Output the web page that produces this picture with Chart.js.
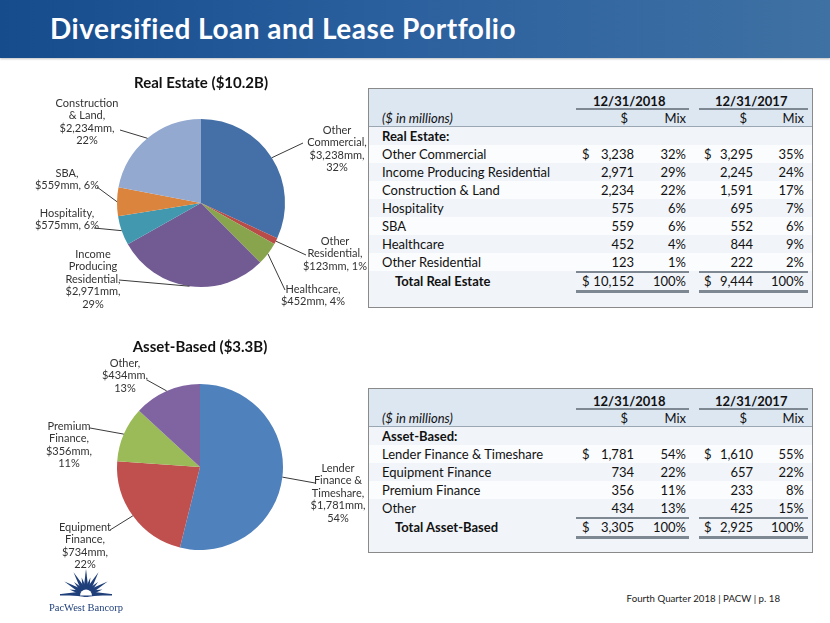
<!DOCTYPE html>
<html>
<head>
<meta charset="utf-8">
<script src="https://cdn.jsdelivr.net/npm/chart.js@4.4.1/dist/chart.umd.min.js"></script>
<style>
  body { margin: 0; background: #fff; font-family: Lato, sans-serif; }
  #page { position: relative; width: 830px; height: 623px; overflow: hidden; background: #fff; }
  #bar { position: absolute; left: 0; top: 0; width: 830px; height: 58px;
         background: linear-gradient(to right, #164b8c 0%, #2a5f9e 45%, #3f71a3 100%);
         box-shadow: 0 1px 2px rgba(0,0,0,0.25); }
  #bar h1 { margin: 0; position: absolute; left: 50px; top: 11px; color: #fff;
            font: bold 28px Lato, sans-serif; letter-spacing: 0.5px; line-height: 34px; }
  .pie { position: absolute; left: 0; width: 368px; height: 250px; }
  .tbl { position: absolute; left: 368px; width: 443px; border: 1px solid #8a8a8a;
         background: #f1f5fa; font-size: 13px; color: #111; z-index: 2; }
  .tbl .hd { position: absolute; left: 0; top: 0; right: 0; height: 37px; background: #dde7f2;
             border-bottom: 1px solid #9aa6b2; }
  .tbl .row { position: absolute; left: 0; right: 0; height: 18px; line-height: 18px; }
  .tbl .row.alt { background: #fbfcfe; }
  .tbl span { position: absolute; top: 0; white-space: nowrap; }
  .tbl .rule { position: absolute; height: 0; border-top: 2px solid #7d8893; }
  .tbl .rule.dbl { border-top: 3px solid #7d8893; }
  #foot { position: absolute; right: 50px; top: 592px; font-size: 9.7px; color: #222; }
  #logo { position: absolute; left: 48px; top: 566px; }
</style>
</head>
<body>
<div id="page">
  <div id="bar"><h1>Diversified Loan and Lease Portfolio</h1></div>
  <div class="pie" style="top:60px"><canvas id="rePie"></canvas></div>
  <div class="pie" style="top:320px"><canvas id="abPie"></canvas></div>
  <div class="tbl" id="reTbl" style="top:88px;height:218px"></div>
  <div class="tbl" id="abTbl" style="top:388px;height:163px"></div>
  <svg id="logo" width="80" height="52" viewBox="0 0 80 52">
    <g fill="#1f3f7a" id="rays"></g>
    <text x="38" y="45" text-anchor="middle" font-family="Liberation Serif, serif" font-size="10.5" fill="#1f3f7a">PacWest Bancorp</text>
  </svg>
  <div id="foot">Fourth Quarter 2018 | PACW | p. 18</div>
</div>
<script>
// real estate (table order)
const reCategories = ["Other Commercial", "Income Producing Residential", "Construction & Land",
                      "Hospitality", "SBA", "Healthcare", "Other Residential"];
const re2018 = [3238, 2971, 2234, 575, 559, 452, 123];
const reMix2018 = [32, 29, 22, 6, 6, 4, 1];
const re2017 = [3295, 2245, 1591, 695, 552, 844, 222];
const reMix2017 = [35, 24, 17, 7, 6, 9, 2];
const reTotals = [10152, 9444];
// order of slices clockwise from 12 o'clock
const reSliceOrder = [0, 6, 5, 1, 3, 4, 2];

// asset-based (table order = slice order)
const abCategories = ["Lender Finance & Timeshare", "Equipment Finance", "Premium Finance", "Other"];
const ab2018 = [1781, 734, 356, 434];
const abMix2018 = [54, 22, 11, 13];
const ab2017 = [1610, 657, 233, 425];
const abMix2017 = [55, 22, 8, 15];
const abTotals = [3305, 2925];

const fmt = n => n.toLocaleString('en-US');

// label placement, relative to pie centre: text anchor, leader end, words per line
const reSpots = [
  { tx: 136, ty: -73, lx: 102, ly: -60, br: [1, 1, 1, 1] },
  { tx: 134, ty: 38, lx: 105, ly: 52, br: [1, 1, 2] },
  { tx: 112, ty: 86, lx: 84, ly: 87, br: [1, 2] },
  { tx: -108, ty: 51, lx: -82, ly: 77, br: [1, 1, 1, 1, 1] },
  { tx: -134, ty: 10, lx: -107, ly: 25, br: [1, 2] },
  { tx: -134, ty: -30, lx: -104, ly: -16, br: [1, 2] },
  { tx: -114, ty: -100, lx: -81, ly: -73, br: [1, 2, 1, 1] }
];
const abSpots = [
  { tx: 138, ty: 1, lx: 115, ly: 16, br: [1, 2, 1, 1, 1] },
  { tx: -115, ty: 60, lx: -90, ly: 63, br: [1, 1, 1, 1] },
  { tx: -131, ty: -41, lx: -110, ly: -39, br: [1, 1, 1, 1] },
  { tx: -75, ty: -104, lx: -53, ly: -87, br: [1, 1, 1] }
];

function split(text, br) {
  const words = text.split(' ');
  const out = [];
  let k = 0;
  br.forEach(n => { out.push(words.slice(k, k + n).join(' ')); k += n; });
  return out;
}

const sliceLabels = {
  id: 'sliceLabels',
  afterDatasetsDraw(chart, args, opts) {
    const ctx = chart.ctx;
    const meta = chart.getDatasetMeta(0);
    const ds = chart.data.datasets[0];
    ctx.save();
    ctx.font = '11px Lato';
    ctx.fillStyle = '#333';
    ctx.strokeStyle = '#3a3a3a';
    ctx.lineWidth = 1;
    ctx.textAlign = 'center';
    ctx.textBaseline = 'middle';
    meta.data.forEach((arc, i) => {
      const p = arc.getProps(['x', 'y', 'startAngle', 'endAngle', 'outerRadius'], true);
      const mid = (p.startAngle + p.endAngle) / 2;
      const ax = p.x + Math.cos(mid) * p.outerRadius;
      const ay = p.y + Math.sin(mid) * p.outerRadius;
      const s = opts.spots[i];
      ctx.beginPath();
      ctx.moveTo(ax, ay);
      ctx.lineTo(p.x + s.lx, p.y + s.ly);
      ctx.stroke();
      const txt = chart.data.labels[i] + ', $' + fmt(ds.data[i]) + 'mm, ' + opts.mix[i] + '%';
      split(txt, s.br).forEach((ln, k) => ctx.fillText(ln, p.x + s.tx, p.y + s.ty + k * 12.6));
    });
    ctx.restore();
  }
};

function pie(id, title, labels, values, mix, colors, spots, pad, tpad) {
  new Chart(document.getElementById(id), {
    type: 'pie',
    data: { labels: labels, datasets: [{ data: values, backgroundColor: colors, borderWidth: 0 }] },
    options: {
      responsive: true,
      maintainAspectRatio: false,
      animation: false,
      layout: { padding: pad },
      plugins: {
        legend: { display: false },
        tooltip: { enabled: false },
        title: { display: true, text: title, color: '#111',
                 font: { family: 'Lato', size: 15, weight: 'bold', lineHeight: 1.2 }, padding: tpad },
        sliceLabels: { spots: spots, mix: mix }
      }
    },
    plugins: [sliceLabels]
  });
}

pie('rePie', 'Real Estate ($10.2B)',
    reSliceOrder.map(i => reCategories[i]), reSliceOrder.map(i => re2018[i]), reSliceOrder.map(i => reMix2018[i]),
    ['#4570a7', '#b94b48', '#88a54e', '#725a92', '#4198af', '#db843d', '#93a9cf'],
    reSpots, { left: 117, right: 83, top: 0, bottom: 23 }, { top: 14, bottom: 27 });

pie('abPie', 'Asset-Based ($3.3B)', abCategories, ab2018, abMix2018,
    ['#4f81bd', '#c0504d', '#9bbb59', '#8064a2'],
    abSpots, { left: 117, right: 85, top: 0, bottom: 20 }, { top: 18, bottom: 28 });

// tables
function table(id, heading, cats, v18, m18, v17, m17, totals, totalLabel) {
  const el = document.getElementById(id);
  let h = '<div class="hd"></div>';
  const span = (x, txt, align, extra) =>
    align === 'r' ? `<span style="right:${443 - x}px;${extra || ''}">${txt}</span>`
                  : `<span style="left:${x}px;${extra || ''}">${txt}</span>`;
  const row = (cy, inner, cls) => `<div class="row ${cls || ''}" style="top:${cy - 9}px">${inner}</div>`;
  h += row(12, span(224, '12/31/2018', 'l', 'font-weight:bold') + span(346, '12/31/2017', 'l', 'font-weight:bold'));
  h += row(29, span(13, '($ in millions)', 'l', 'font-style:italic') + span(259, '$', 'r') + span(317, 'Mix', 'r') +
               span(378, '$', 'r') + span(435, 'Mix', 'r'));
  h += row(47, span(13, heading, 'l', 'font-weight:bold'));
  cats.forEach((c, i) => {
    const d = i === 0;
    h += row(65 + 18 * i,
      span(13, c) + (d ? span(213, '$') : '') + span(265, fmt(v18[i]), 'r') + span(317, m18[i] + '%', 'r') +
      (d ? span(335, '$') : '') + span(384, fmt(v17[i]), 'r') + span(435, m17[i] + '%', 'r'),
      i % 2 ? '' : 'alt');
  });
  const ty = 65 + 18 * cats.length + 1;
  h += row(ty, span(26, totalLabel, 'l', 'font-weight:bold') + span(213, '$') + span(265, fmt(totals[0]), 'r') +
      span(317, '100%', 'r') + span(335, '$') + span(384, fmt(totals[1]), 'r') + span(435, '100%', 'r'));
  // rules
  const rule = (y, x1, x2, cls) => `<div class="rule ${cls || ''}" style="top:${y}px;left:${x1}px;width:${x2 - x1}px"></div>`;
  h += rule(19, 207, 320) + rule(19, 330, 439);
  h += rule(ty - 10, 207, 320) + rule(ty - 10, 330, 439);
  h += rule(ty + 9, 207, 320, 'dbl') + rule(ty + 9, 330, 439, 'dbl');
  el.innerHTML = h;
}
table('reTbl', 'Real Estate:', reCategories, re2018, reMix2018, re2017, reMix2017, reTotals, 'Total Real Estate');
table('abTbl', 'Asset-Based:', abCategories, ab2018, abMix2018, ab2017, abMix2017, abTotals, 'Total Asset-Based');

// logo rays
(function () {
  const g = document.getElementById('rays');
  const cx = 38, cy = 28;
  let s = '';
  for (let k = 0; k <= 12; k++) {
    const a = Math.PI + k * Math.PI / 12;
    const len = k % 2 ? 17 : 25;
    const tx = cx + Math.cos(a) * len, ty = cy + Math.sin(a) * len;
    const pa = a + Math.PI / 2, w = 3;
    s += `<polygon points="${tx},${ty} ${cx + Math.cos(pa) * w},${cy + Math.sin(pa) * w} ${cx - Math.cos(pa) * w},${cy - Math.sin(pa) * w}"/>`;
  }
  s += `<path d="M${cx - 26},${cy} L${cx + 26},${cy} L${cx + 26},${cy + 1.5} L${cx - 26},${cy + 1.5} Z"/>`;
  s += `<path d="M${cx - 6},${cy + 1.5} A6,6 0 0 1 ${cx + 6},${cy + 1.5} Z" fill="#fff"/>`;
  g.innerHTML = s;
})();
</script>
</body>
</html>
